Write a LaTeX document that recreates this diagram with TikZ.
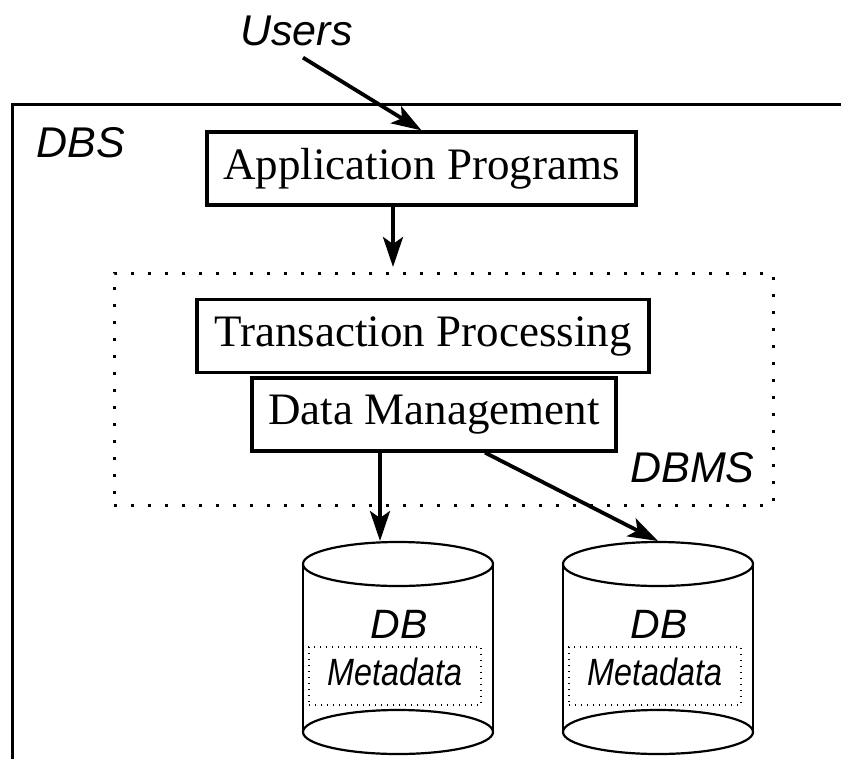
\documentclass[tikz,border=0pt]{standalone}
\usepackage{fontspec}
\setmainfont{Liberation Serif}
\newfontfamily\labelfont{Liberation Sans}
\usetikzlibrary{arrows.meta}

\tikzset{
	box/.style={draw, line width=3.2pt, inner sep=0pt, minimum height=73pt, font=\fontsize{45}{50}\selectfont},
	lbl/.style={inner sep=0pt, anchor=base, font=\labelfont\itshape\fontsize{43}{48}\selectfont},
	arr/.style={line width=3.8pt, -{Stealth[length=30pt,width=20pt,inset=7pt]}},
	cyl/.style={line width=2.2pt},
	metabox/.style={draw, line width=1.2pt, dash pattern=on 1.2pt off 4.8pt, minimum width=172pt, minimum height=58pt},
	meta/.style={inner sep=0pt, anchor=base, xscale=0.85, font=\labelfont\itshape\fontsize{38}{42}\selectfont}
}

\begin{document}
\begin{tikzpicture}[x=1pt,y=-1pt]
		\useasboundingbox (0,0) rectangle (841,758);
		\clip (0,0) rectangle (841,758);
		
		% DBS
		\draw[line width=3pt] (12,770) -- (12,104) -- (850,104);
		\node[lbl] (dbs) at (80.5,157) {DBS};
		\node[lbl] (users) at (296.5,45) {Users};
		
		% Programme und DBMS
		\node[box, minimum width=429pt] (app) at (421.5,168.5) {Application Programs};
		\node[draw, line width=3pt, dash pattern=on 3pt off 14pt, minimum width=659pt, minimum height=232pt] (dbms) at (443.5,389) {};
		\node[lbl] (dbmslbl) at (692.5,482) {DBMS};
		\node[box, minimum width=452pt] (tp) at (423,336) {Transaction Processing};
		\node[box, minimum width=364pt] (dm) at (434,414.5) {Data Management};
		
		% Datenbanken
		\foreach \cx/\nm in {398/dba,658/dbb}{
			\draw[cyl] (\cx-95,564) -- (\cx-95,732) (\cx+95,564) -- (\cx+95,732);
			\draw[cyl] (\cx,564) ellipse [x radius=95pt, y radius=22pt];
			\draw[cyl] (\cx,732) ellipse [x radius=95pt, y radius=22pt];
			\node[lbl, font=\labelfont\itshape\fontsize{41}{46}\selectfont] (\nm) at (\cx+1,638) {DB};
			\node[metabox] (box-\nm) at (\cx-3,676) {};
			\node[meta] (meta-\nm) at (\cx-3,685) {Metadata};
		}
		
		% Pfeile
		\coordinate (apptip) at (393,267);
		\coordinate (dbatop) at (380,541);
		\coordinate (dbbtop) at (658,541);
		\draw[arr] ([xshift=6.5pt,yshift=-12pt]users.south) -- (app.north);
		\draw[arr] (app.south -| apptip) -- (apptip);
		\draw[arr] (dm.south -| dbatop) -- (dbatop);
		\draw[arr] ([xshift=51pt]dm.south) -- (dbbtop);
\end{tikzpicture}
\end{document}
